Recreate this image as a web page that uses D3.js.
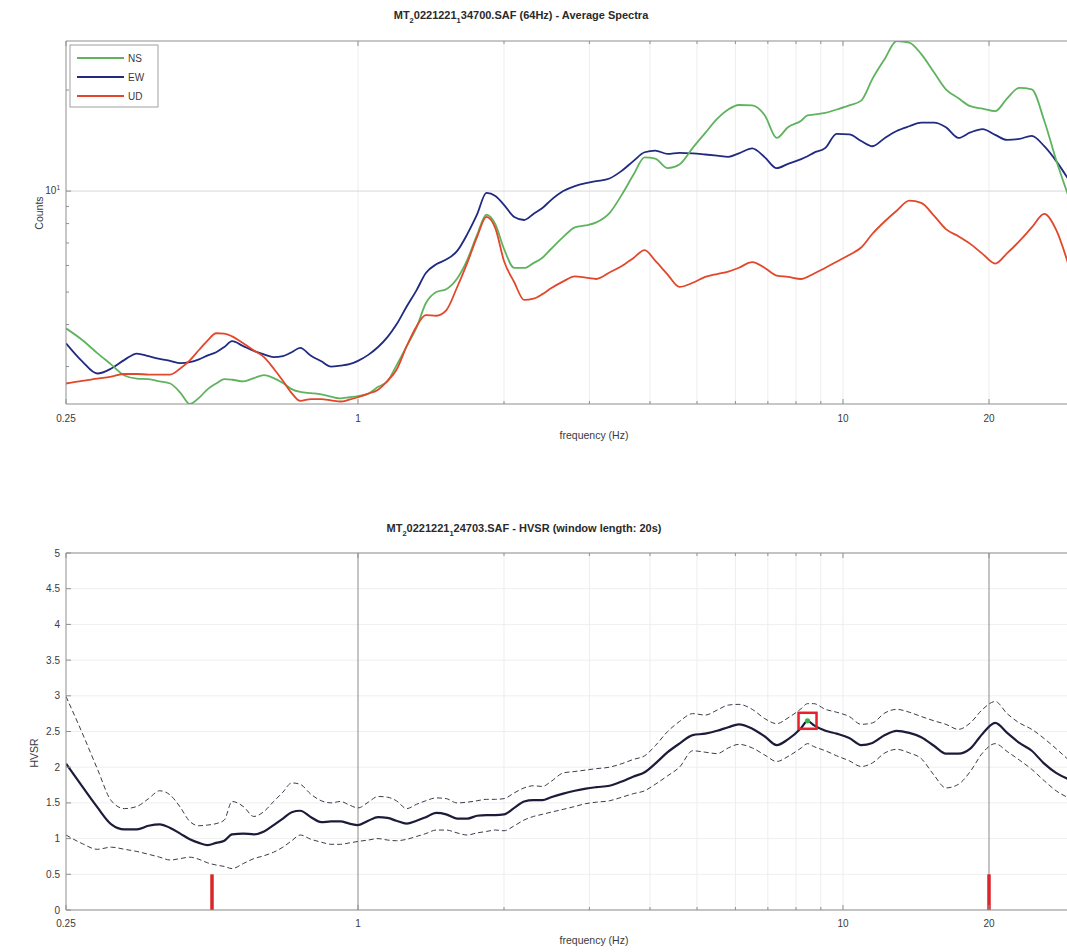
<!DOCTYPE html>
<html>
<head>
<meta charset="utf-8">
<script src="https://cdn.jsdelivr.net/npm/d3@7"></script>
<style>
  body { margin: 0; background: #fff; }
  svg { display: block; }
  text { font-family: "Liberation Sans", Arial, sans-serif; fill: #3a3a3a; }
</style>
</head>
<body>
<svg id="chart" width="1067" height="952"></svg>
<script>
// Frequency samples (Hz)
const freq = [0.25,0.27,0.29,0.31,0.33,0.35,0.37,0.39,0.41,0.43,0.45,0.47,0.49,0.51,0.53,0.55,
  0.58,0.61,0.64,0.67,0.70,0.73,0.76,0.80,0.84,0.88,0.92,0.96,1.00,1.05,1.10,1.15,1.20,
  1.26,1.32,1.38,1.45,1.52,1.60,1.68,1.76,1.84,1.92,2.0,2.1,2.2,2.3,2.4,2.5,
  2.65,2.8,2.95,3.1,3.3,3.5,3.7,3.9,4.1,4.35,4.6,4.9,
  5.2,5.5,5.8,6.1,6.5,6.9,7.3,7.7,8.2,8.45,8.7,9.2,9.7,
  10.3,10.9,11.5,12.2,12.9,13.7,14.5,15.4,16.3,17.3,18.3,19.4,
  20.6,21.8,23.1,24.5,26.0,27.5,29.2];

// Average spectra, counts
const ampNS = [3.9,3.6,3.29,3.04,2.82,2.76,2.75,2.71,2.67,2.51,2.32,2.42,2.57,2.67,2.75,2.74,
  2.71,2.77,2.83,2.77,2.68,2.57,2.52,2.50,2.48,2.44,2.41,2.43,2.45,2.49,2.61,2.71,3.02,
  3.45,3.92,4.63,5.0,5.1,5.48,6.24,7.4,8.5,7.95,6.73,5.9,5.9,6.1,6.33,6.72,
  7.3,7.8,7.9,8.07,8.6,9.76,11.2,12.6,12.5,11.7,12.0,13.45,
  14.9,16.4,17.5,18.05,18.0,16.8,14.4,15.5,16.2,16.8,16.9,17.1,17.5,
  18.0,18.6,21.6,24.8,28.0,27.7,25.6,22.6,20.1,18.9,17.9,17.6,
  17.3,18.9,20.3,20.1,16.2,12.4,9.6];
const ampEW = [3.52,3.11,2.86,2.96,3.14,3.28,3.22,3.16,3.12,3.07,3.09,3.15,3.24,3.31,3.43,3.57,
  3.45,3.34,3.26,3.20,3.22,3.31,3.41,3.23,3.11,3.00,3.02,3.05,3.12,3.25,3.43,3.67,4.00,
  4.53,5.06,5.70,6.05,6.25,6.62,7.44,8.52,9.87,9.67,9.10,8.37,8.20,8.55,8.90,9.40,
  10.0,10.35,10.56,10.7,10.9,11.5,12.3,13.05,13.2,12.9,13.0,12.95,
  12.85,12.75,12.65,12.95,13.4,12.6,11.7,12.05,12.45,12.7,13.0,13.45,14.8,
  14.75,14.1,13.6,14.4,15.1,15.6,16.0,16.0,15.5,14.4,14.95,15.3,
  14.7,14.2,14.3,14.6,13.6,12.3,10.8];
const ampUD = [2.67,2.72,2.76,2.80,2.85,2.85,2.84,2.84,2.84,2.96,3.13,3.36,3.59,3.77,3.76,3.69,
  3.52,3.35,3.20,2.96,2.72,2.50,2.37,2.40,2.40,2.38,2.36,2.39,2.43,2.49,2.56,2.72,2.93,
  3.45,3.95,4.27,4.25,4.41,5.16,6.11,7.30,8.38,7.74,6.19,5.35,4.74,4.78,4.93,5.13,
  5.38,5.57,5.52,5.47,5.72,5.98,6.32,6.67,6.20,5.64,5.18,5.33,
  5.55,5.66,5.75,5.91,6.14,5.90,5.60,5.55,5.47,5.55,5.67,5.91,6.16,
  6.45,6.79,7.46,8.13,8.74,9.37,9.22,8.45,7.70,7.33,6.96,6.50,
  6.08,6.53,7.09,7.79,8.55,7.67,6.0];

// H/V spectral ratio: mean and mean ± one standard deviation
const hvsrMean = [2.05,1.73,1.44,1.20,1.13,1.13,1.18,1.20,1.15,1.07,0.99,0.94,0.91,0.94,0.97,1.06,
  1.07,1.06,1.10,1.19,1.28,1.37,1.39,1.30,1.23,1.24,1.24,1.21,1.19,1.25,1.30,1.29,1.25,
  1.21,1.25,1.30,1.36,1.34,1.28,1.28,1.32,1.33,1.33,1.34,1.43,1.52,1.54,1.54,1.58,
  1.63,1.67,1.70,1.72,1.74,1.80,1.87,1.93,2.05,2.21,2.33,2.45,
  2.47,2.51,2.56,2.60,2.54,2.43,2.31,2.39,2.55,2.65,2.59,2.51,2.47,
  2.41,2.31,2.34,2.45,2.51,2.48,2.42,2.30,2.19,2.19,2.26,2.47,
  2.62,2.48,2.34,2.23,2.05,1.92,1.83];
const hvsrUpper = [2.99,2.48,1.98,1.53,1.42,1.45,1.56,1.67,1.61,1.44,1.24,1.18,1.19,1.21,1.26,1.52,
  1.45,1.31,1.38,1.52,1.65,1.78,1.76,1.62,1.53,1.50,1.52,1.47,1.43,1.51,1.59,1.58,1.53,
  1.42,1.48,1.53,1.57,1.56,1.50,1.51,1.53,1.55,1.55,1.56,1.64,1.71,1.74,1.73,1.80,
  1.92,1.94,1.96,1.98,2.00,2.05,2.11,2.16,2.30,2.50,2.64,2.75,
  2.73,2.80,2.87,2.88,2.81,2.68,2.61,2.69,2.82,2.89,2.89,2.81,2.77,
  2.71,2.60,2.62,2.76,2.81,2.77,2.71,2.65,2.60,2.53,2.62,2.81,
  2.92,2.75,2.62,2.53,2.40,2.26,2.10];
const hvsrLower = [1.05,0.93,0.85,0.88,0.85,0.82,0.78,0.74,0.70,0.72,0.74,0.71,0.66,0.63,0.61,0.58,
  0.65,0.72,0.76,0.81,0.88,0.97,1.05,0.99,0.95,0.92,0.92,0.94,0.96,0.98,1.00,0.98,0.97,
  0.99,1.03,1.07,1.12,1.12,1.08,1.05,1.08,1.10,1.12,1.11,1.18,1.26,1.31,1.34,1.37,
  1.41,1.45,1.49,1.51,1.53,1.58,1.63,1.67,1.76,1.88,2.00,2.23,
  2.21,2.19,2.27,2.32,2.27,2.17,2.08,2.15,2.27,2.33,2.29,2.23,2.16,
  2.09,2.01,2.06,2.20,2.25,2.20,2.12,1.89,1.71,1.76,1.94,2.20,
  2.33,2.22,2.10,1.97,1.81,1.67,1.57];

// Picked peak and analysed frequency band
const peakFreq = 8.45;
const peakAmp = 2.65;
const bandLimits = [0.5, 20];
const bandMarkHeight = 0.5;

// Axis ticks
const freqTicks = [0.25, 1, 10, 20];
const freqTickLabels = ["0.25", "1", "10", "20"];
const freqMinorTicks = [2, 3, 4, 5, 6, 7, 8, 9, 30];
const countMinorTicks = [3, 4, 5, 6, 7, 8, 9, 20];
const hvsrTicks = [0, 0.5, 1, 1.5, 2, 2.5, 3, 3.5, 4, 4.5, 5];
const hvsrTickLabels = ["0", "0.5", "1", "1.5", "2", "2.5", "3", "3.5", "4", "4.5", "5"];

const components = [
  { name: "NS", values: ampNS, color: "#5fb35f" },
  { name: "EW", values: ampEW, color: "#1f2a80" },
  { name: "UD", values: ampUD, color: "#e2472b" }
];

const svg = d3.select("#chart");
const left = 66, right = 1088;
const top1 = 41, bottom1 = 404;
const top2 = 553, bottom2 = 910;
const axisColor = "#8f8f8f";
const gridColor = "#ededed";
const labelSize = 10;

const x = d3.scaleLog().domain([0.25, 32]).range([left, right]);
const allAmp = ampNS.concat(ampEW, ampUD);
const yAmp = d3.scaleLog().domain(d3.extent(allAmp)).range([bottom1, top1]);
const yHv = d3.scaleLinear().domain([0, 5]).range([bottom2, top2]);

const defs = svg.append("defs");
defs.append("clipPath").attr("id", "clipTop")
  .append("rect").attr("x", left).attr("y", top1).attr("width", right - left).attr("height", bottom1 - top1);
defs.append("clipPath").attr("id", "clipBottom")
  .append("rect").attr("x", left).attr("y", top2).attr("width", right - left).attr("height", bottom2 - top2);

function drawTitle(xPos, yPos, parts) {
  const t = svg.append("text").attr("x", xPos).attr("y", yPos)
    .attr("text-anchor", "middle").attr("font-size", 11).attr("font-weight", "bold").style("fill", "#2a2a2a");
  parts.forEach(p => {
    const s = t.append("tspan").text(p.t);
    if (p.sub) s.attr("font-size", 7.5).attr("dy", 3.5);
    else if (p.after) s.attr("dy", -3.5);
  });
}

function freqAxis(g, y0, y1, labelY, titleY) {
  // ticks inward on bottom and top edges
  freqTicks.concat(freqMinorTicks).forEach(f => {
    const len = freqTicks.includes(f) ? 5 : 3;
    g.append("line").attr("x1", x(f)).attr("x2", x(f)).attr("y1", y1).attr("y2", y1 - len)
      .attr("stroke", axisColor);
    g.append("line").attr("x1", x(f)).attr("x2", x(f)).attr("y1", y0).attr("y2", y0 + len)
      .attr("stroke", axisColor);
  });
  freqTicks.forEach((f, i) => {
    g.append("text").attr("x", x(f)).attr("y", labelY).attr("text-anchor", "middle")
      .attr("font-size", labelSize).text(freqTickLabels[i]);
  });
  g.append("text").attr("x", 594).attr("y", titleY).attr("text-anchor", "middle")
    .attr("font-size", 10.5).text("frequency (Hz)");
}

function frame(g, y0, y1) {
  g.append("line").attr("x1", left).attr("x2", right).attr("y1", y1).attr("y2", y1).attr("stroke", axisColor);
  g.append("line").attr("x1", left).attr("x2", right).attr("y1", y0).attr("y2", y0).attr("stroke", axisColor);
  g.append("line").attr("x1", left).attr("x2", left).attr("y1", y0).attr("y2", y1).attr("stroke", axisColor);
}

// ---------- Average spectra ----------
const g1 = svg.append("g");
freqMinorTicks.concat([1, 10, 20]).forEach(f => {
  g1.append("line").attr("x1", x(f)).attr("x2", x(f)).attr("y1", top1).attr("y2", bottom1)
    .attr("stroke", gridColor).attr("stroke-width", 1);
});
g1.append("line").attr("x1", left).attr("x2", right).attr("y1", yAmp(10)).attr("y2", yAmp(10))
  .attr("stroke", "#d8d8d8");

const lineAmp = vals => d3.line()
  .x((d, i) => x(freq[i])).y(d => yAmp(d)).curve(d3.curveMonotoneX)(vals);

const plot1 = g1.append("g").attr("clip-path", "url(#clipTop)");
[components[1], components[0], components[2]].forEach(c => {
  plot1.append("path").attr("d", lineAmp(c.values)).attr("fill", "none")
    .attr("stroke", c.color).attr("stroke-width", 1.8).attr("stroke-linejoin", "round");
});

frame(g1, top1, bottom1);
freqAxis(g1, top1, bottom1, 422, 439);

countMinorTicks.forEach(v => {
  g1.append("line").attr("x1", left).attr("x2", left + 3).attr("y1", yAmp(v)).attr("y2", yAmp(v)).attr("stroke", axisColor);
});
g1.append("line").attr("x1", left).attr("x2", left + 5).attr("y1", yAmp(10)).attr("y2", yAmp(10)).attr("stroke", axisColor);
const decade = g1.append("text").attr("x", 60).attr("y", yAmp(10) + 3).attr("text-anchor", "end").attr("font-size", labelSize);
decade.append("tspan").text("10");
decade.append("tspan").text("1").attr("font-size", 6.5).attr("dy", -4);

g1.append("text").attr("transform", `translate(43,${yAmp(10) + 22}) rotate(-90)`)
  .attr("text-anchor", "middle").attr("font-size", 10.5).text("Counts");

// legend
const lg = g1.append("g");
lg.append("rect").attr("x", 70).attr("y", 45).attr("width", 88).attr("height", 62)
  .attr("fill", "#fff").attr("stroke", "#a0a0a0");
components.forEach((c, i) => {
  const ly = 58 + i * 19;
  lg.append("line").attr("x1", 77).attr("x2", 124).attr("y1", ly).attr("y2", ly)
    .attr("stroke", c.color).attr("stroke-width", 1.8);
  lg.append("text").attr("x", 128).attr("y", ly + 3.5).attr("font-size", labelSize).text(c.name);
});

drawTitle(521, 19, [{t: "MT"}, {t: "2", sub: true}, {t: "0221221", after: true}, {t: "1", sub: true},
  {t: "34700.SAF (64Hz) - Average Spectra", after: true}]);

// ---------- HVSR ----------
const g2 = svg.append("g");
hvsrTicks.forEach(v => {
  g2.append("line").attr("x1", left).attr("x2", right).attr("y1", yHv(v)).attr("y2", yHv(v))
    .attr("stroke", "#efefef");
});
freqMinorTicks.concat([10]).forEach(f => {
  g2.append("line").attr("x1", x(f)).attr("x2", x(f)).attr("y1", top2).attr("y2", bottom2)
    .attr("stroke", gridColor);
});
[1, 20].forEach(f => {
  g2.append("line").attr("x1", x(f)).attr("x2", x(f)).attr("y1", top2).attr("y2", bottom2)
    .attr("stroke", "#8a8a8a").attr("stroke-width", 1);
});

const lineHv = vals => d3.line()
  .x((d, i) => x(freq[i])).y(d => yHv(d)).curve(d3.curveMonotoneX)(vals);

const plot2 = g2.append("g").attr("clip-path", "url(#clipBottom)");
[hvsrUpper, hvsrLower].forEach(vals => {
  plot2.append("path").attr("d", lineHv(vals)).attr("fill", "none")
    .attr("stroke", "#3c3c4a").attr("stroke-width", 1).attr("stroke-dasharray", "5,3");
});
plot2.append("path").attr("d", lineHv(hvsrMean)).attr("fill", "none")
  .attr("stroke", "#1c1c3a").attr("stroke-width", 2.2).attr("stroke-linejoin", "round");

bandLimits.forEach(f => {
  plot2.append("line").attr("x1", x(f)).attr("x2", x(f)).attr("y1", yHv(0)).attr("y2", yHv(bandMarkHeight))
    .attr("stroke", "#d9262b").attr("stroke-width", 3.5);
});

plot2.append("rect").attr("x", x(peakFreq) - 9).attr("y", yHv(peakAmp) - 8)
  .attr("width", 18).attr("height", 16).attr("fill", "none")
  .attr("stroke", "#e8202a").attr("stroke-width", 2.5);
plot2.append("circle").attr("cx", x(peakFreq)).attr("cy", yHv(peakAmp)).attr("r", 2.6)
  .attr("fill", "#36b34a");

frame(g2, top2, bottom2);
freqAxis(g2, top2, bottom2, 927, 944);

hvsrTicks.forEach((v, i) => {
  g2.append("line").attr("x1", left).attr("x2", left + 5).attr("y1", yHv(v)).attr("y2", yHv(v)).attr("stroke", axisColor);
  g2.append("text").attr("x", 60).attr("y", yHv(v) + 3.5).attr("text-anchor", "end")
    .attr("font-size", labelSize).text(hvsrTickLabels[i]);
});
g2.append("text").attr("transform", `translate(38,${yHv(2.2)}) rotate(-90)`)
  .attr("text-anchor", "middle").attr("font-size", 10.5).text("HVSR");

drawTitle(524, 532, [{t: "MT"}, {t: "2", sub: true}, {t: "0221221", after: true}, {t: "1", sub: true},
  {t: "24703.SAF - HVSR (window length: 20s)", after: true}]);
</script>
</body>
</html>
